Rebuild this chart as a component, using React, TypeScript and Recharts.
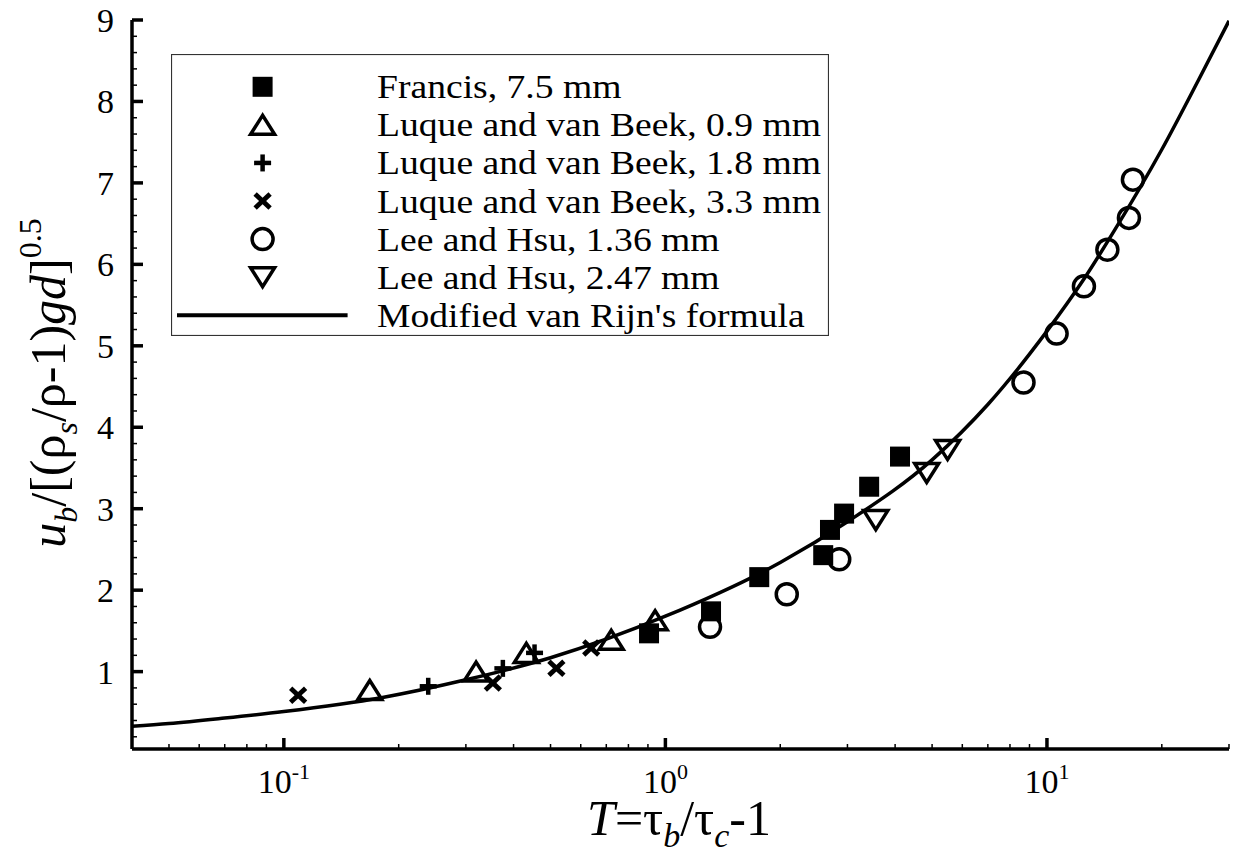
import React from "react";
import { ComposedChart, XAxis, YAxis, Line, Scatter, Legend, Label } from "recharts";

// ---------- data ----------
const francisT = [0.906, 1.317, 1.762, 2.592, 2.70, 2.94, 3.42, 4.12];
const francisU = [1.47, 1.74, 2.16, 2.43, 2.74, 2.94, 3.27, 3.64];

const luque09T = [0.168, 0.319, 0.432, 0.721, 0.94];
const luque09U = [0.775, 1.0, 1.23, 1.39, 1.63];

const luque18T = [0.239, 0.375, 0.454];
const luque18U = [0.82, 1.04, 1.23];

const luque33T = [0.109, 0.353, 0.518, 0.639];
const luque33U = [0.71, 0.86, 1.04, 1.29];

const lee136T = [1.309, 2.08, 2.855, 8.68, 10.6, 12.5, 14.4, 16.4, 16.8];
const lee136U = [1.55, 1.95, 2.38, 4.55, 5.15, 5.73, 6.18, 6.57, 7.04];

const lee247T = [3.56, 4.84, 5.49];
const lee247U = [2.86, 3.44, 3.72];

const curveT = [0.04, 0.05, 0.07, 0.1, 0.18, 0.3, 0.5, 1, 2, 3, 5, 7, 10, 12.5, 15, 20, 25, 30];
const curveU = [0.33, 0.363, 0.43, 0.51, 0.68, 0.9, 1.17, 1.68, 2.34, 2.84, 3.6, 4.28, 5.18, 5.82, 6.41, 7.41, 8.27, 8.99];

const seriesNames = [
  "Francis, 7.5 mm",
  "Luque and van Beek, 0.9 mm",
  "Luque and van Beek, 1.8 mm",
  "Luque and van Beek, 3.3 mm",
  "Lee and Hsu, 1.36 mm",
  "Lee and Hsu, 2.47 mm",
  "Modified van Rijn's formula",
];

// ---------- ticks ----------
const xMajor = [0.1, 1, 10];
const xMajorExp = ["-1", "0", "1"];
const xMinor = [0.05, 0.06, 0.07, 0.08, 0.09, 0.2, 0.3, 0.4, 0.5, 0.6, 0.7, 0.8, 0.9, 2, 3, 4, 5, 6, 7, 8, 9, 20, 30];
const yMajor = [1, 2, 3, 4, 5, 6, 7, 8, 9];
const yMinor = [0.2, 0.4, 0.6, 0.8, 1.2, 1.4, 1.6, 1.8, 2.2, 2.4, 2.6, 2.8, 3.2, 3.4, 3.6, 3.8, 4.2, 4.4, 4.6, 4.8, 5.2, 5.4, 5.6, 5.8, 6.2, 6.4, 6.6, 6.8, 7.2, 7.4, 7.6, 7.8, 8.2, 8.4, 8.6, 8.8];

const zip = (xs: number[], ys: number[]) => xs.map((x, i) => ({ x, y: ys[i] }));

const FONT = "'Liberation Serif', 'Times New Roman', serif";

// ---------- markers ----------
const Square = ({ cx, cy }: any) => <rect x={cx - 10} y={cy - 10} width={20} height={20} fill="#000" />;
const TriUp = ({ cx, cy }: any) => (
  <polygon points={`${cx},${cy - 9.5} ${cx - 12},${cy + 9.5} ${cx + 12},${cy + 9.5}`} fill="none" stroke="#000" strokeWidth={3.5} />
);
const TriDown = ({ cx, cy }: any) => (
  <polygon points={`${cx - 12},${cy - 9.5} ${cx + 12},${cy - 9.5} ${cx},${cy + 9.5}`} fill="none" stroke="#000" strokeWidth={3.5} />
);
const Plus = ({ cx, cy }: any) => (
  <g stroke="#000" strokeWidth={4.5}>
    <line x1={cx - 8.5} y1={cy} x2={cx + 8.5} y2={cy} />
    <line x1={cx} y1={cy - 8.5} x2={cx} y2={cy + 8.5} />
  </g>
);
const Cross = ({ cx, cy }: any) => (
  <g stroke="#000" strokeWidth={4.8}>
    <line x1={cx - 7.5} y1={cy - 7} x2={cx + 7.5} y2={cy + 7} />
    <line x1={cx + 7.5} y1={cy - 7} x2={cx - 7.5} y2={cy + 7} />
  </g>
);
const Circ = ({ cx, cy }: any) => <circle cx={cx} cy={cy} r={10.5} fill="none" stroke="#000" strokeWidth={3.5} />;

const markers = [Square, TriUp, Plus, Cross, Circ, TriDown];

// ---------- ticks ----------
const XTick = (props: any) => {
  const { x, y, payload } = props;
  const v = payload.value;
  const mi = xMajor.indexOf(v);
  const major = mi >= 0;
  return (
    <g>
      <line x1={x} y1={y} x2={x} y2={y - (major ? 11 : 5)} stroke="#000" strokeWidth={major ? 3.5 : 1.5} />
      {major && (
        <text x={x} y={y + 44} textAnchor="middle" fontFamily={FONT} fontSize={34} fill="#000">
          10
          <tspan dy={-14} fontSize={22}>{xMajorExp[mi]}</tspan>
        </text>
      )}
    </g>
  );
};

const YTick = (props: any) => {
  const { x, y, payload } = props;
  const v = payload.value;
  const major = yMajor.indexOf(v) >= 0;
  return (
    <g>
      <line x1={x} y1={y} x2={x + (major ? 11 : 5)} y2={y} stroke="#000" strokeWidth={major ? 3.5 : 1.5} />
      {major && (
        <text x={x - 18} y={y + 12} textAnchor="end" fontFamily={FONT} fontSize={34} fill="#000">
          {v}
        </text>
      )}
    </g>
  );
};

// ---------- legend ----------
const LegendBox = () => {
  const w = 658;
  const h = 282;
  return (
    <svg width={w} height={h} style={{ display: "block" }}>
      <rect x={0.5} y={0.5} width={w - 1} height={h - 1} fill="#fff" stroke="#333" strokeWidth={1.2} />
      {seriesNames.map((name, i) => {
        const base = 44.3 + i * 38.07;
        const cy = base - 11.5;
        const M = markers[i];
        return (
          <g key={name}>
            {M ? <M cx={91.6} cy={cy} /> : <line x1={6} x2={176.6} y1={cy} y2={cy} stroke="#000" strokeWidth={4} />}
            <text
              transform={`translate(206,${base}) scale(1.14,1)`}
              x={0}
              y={0}
              fontFamily={FONT}
              fontSize={33}
              fill="#000"
            >
              {name}
            </text>
          </g>
        );
      })}
    </svg>
  );
};

const YTitle = () => (
  <text transform="translate(57,375) rotate(-90)" textAnchor="middle" fontFamily={FONT} fontSize={50} fill="#000">
    <tspan fontStyle="italic">u</tspan>
    <tspan fontStyle="italic" fontSize={32} dy={12}>b</tspan>
    <tspan dy={-12}>/[(ρ</tspan>
    <tspan fontStyle="italic" fontSize={32} dy={12}>s</tspan>
    <tspan dy={-12}>/ρ-1)</tspan>
    <tspan fontStyle="italic">gd</tspan>
    <tspan>]</tspan>
    <tspan fontSize={32} dy={-24}>0.5</tspan>
  </text>
);

const XTitle = () => (
  <text x={671} y={827} textAnchor="middle" fontFamily={FONT} fontSize={50} fill="#000">
    <tspan fontStyle="italic">T</tspan>
    <tspan>=τ</tspan>
    <tspan fontStyle="italic" fontSize={34} dy={12}>b</tspan>
    <tspan dy={-12}>/τ</tspan>
    <tspan fontStyle="italic" fontSize={34} dy={12}>c</tspan>
    <tspan dy={-12}>-1</tspan>
  </text>
);

export default function App() {
  const datasets = [
    zip(francisT, francisU),
    zip(luque09T, luque09U),
    zip(luque18T, luque18U),
    zip(luque33T, luque33U),
    zip(lee136T, lee136U),
    zip(lee247T, lee247U),
  ];
  const curve = zip(curveT, curveU);
  return (
    <div style={{ width: 1231, height: 850, background: "#fff" }}>
      <ComposedChart width={1231} height={850} margin={{ top: 12, right: 10, bottom: 0, left: 0 }}>
        <XAxis
          dataKey="x"
          type="number"
          scale="log"
          domain={[0.04, 30]}
          allowDataOverflow
          ticks={[...xMajor, ...xMinor]}
          interval={0}
          height={109}
          tickSize={0}
          tickMargin={0}
          tickLine={false}
          axisLine={{ stroke: "#000", strokeWidth: 3.5 }}
          tick={<XTick />}
        >
          <Label content={<XTitle />} />
        </XAxis>
        <YAxis
          dataKey="y"
          type="number"
          domain={[0.05, 9]}
          allowDataOverflow
          ticks={[...yMajor, ...yMinor]}
          interval={0}
          width={124}
          tickSize={0}
          tickMargin={0}
          tickLine={false}
          axisLine={{ stroke: "#000", strokeWidth: 3.5 }}
          tick={<YTick />}
        >
          <Label content={<YTitle />} />
        </YAxis>
        <Line
          data={curve}
          dataKey="y"
          type="monotone"
          stroke="#000"
          strokeWidth={3.5}
          dot={false}
          activeDot={false}
          isAnimationActive={false}
          name={seriesNames[6]}
        />
        {datasets.map((d, i) => (
          <Scatter
            key={seriesNames[i]}
            name={seriesNames[i]}
            data={d}
            dataKey="y"
            shape={markers[i]}
            isAnimationActive={false}
          />
        ))}
        <Legend
          layout="horizontal"
          verticalAlign="middle"
          align="center"
          content={() => <LegendBox />}
          wrapperStyle={{ position: "absolute", left: 162.7, top: 46, width: 658, height: 282 }}
        />
      </ComposedChart>
    </div>
  );
}
